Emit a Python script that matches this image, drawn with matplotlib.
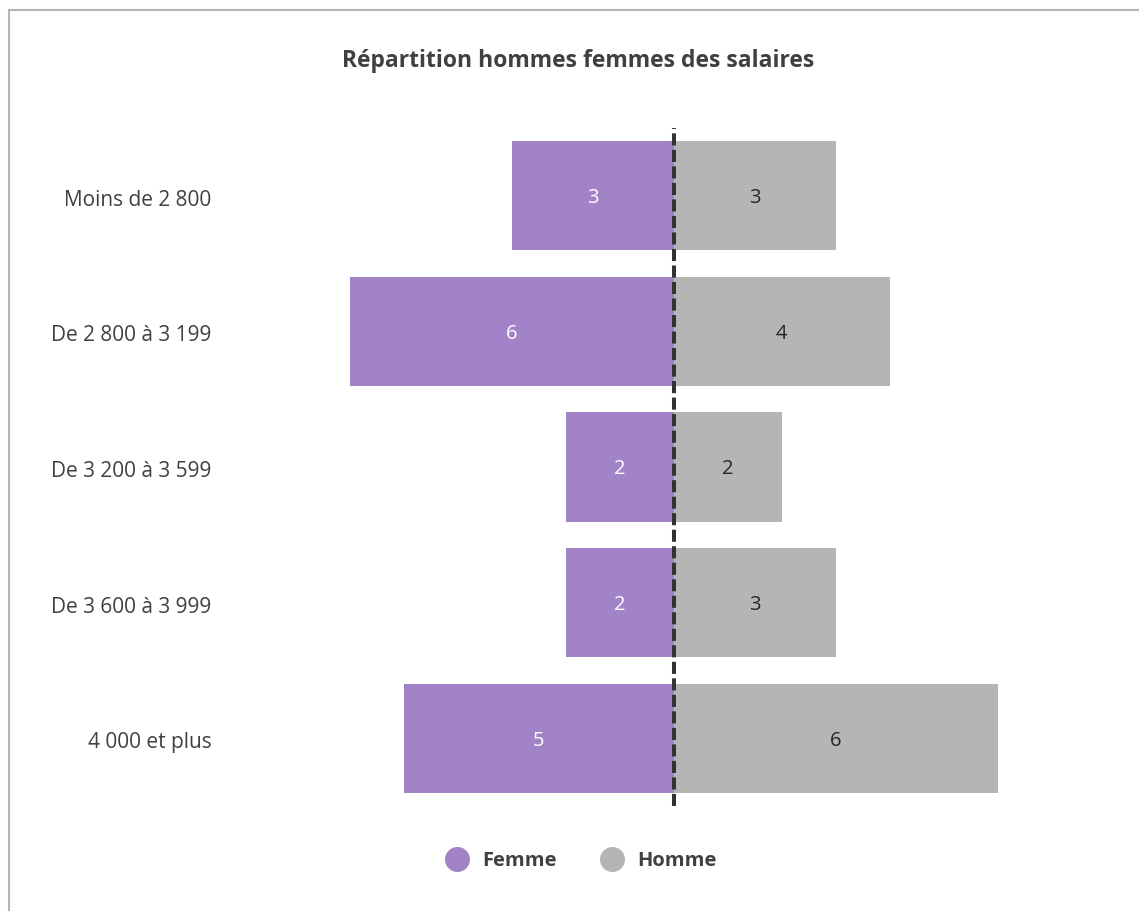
import matplotlib
matplotlib.use("Agg")
import matplotlib.pyplot as plt
from matplotlib.lines import Line2D
from matplotlib.patches import Rectangle
import matplotlib.transforms as mtransforms

categories = ["Moins de 2 800", "De 2 800 à 3 199", "De 3 200 à 3 599", "De 3 600 à 3 999", "4 000 et plus"]
femme = [3, 6, 2, 2, 5]
homme = [3, 4, 2, 3, 6]
series_names = ["Femme", "Homme"]

PURPLE = "#A383C8"
GRAY = "#B5B5B5"
TEXT = "#404040"

plt.rcParams['font.family'] = ['Open Sans', 'DejaVu Sans']

W, H = 1139, 911
fig = plt.figure(figsize=(W / 100, H / 100), dpi=100)

# chart border (left/top visible)
fig.patches.append(Rectangle((8.5 / W, -0.1), 2.0, (H - 10.5) / H + 0.1, transform=fig.transFigure,
                             fill=False, edgecolor="#B4B4B4", linewidth=1.5))

ax = fig.add_axes([241.5 / W, (H - 806) / H, 864 / W, 678 / H])
ypos = list(range(len(categories)))
ax.barh(ypos, [-v for v in femme], height=0.805, color=PURPLE, left=0)
ax.barh(ypos, homme, height=0.805, color=GRAY, left=0)

shift = mtransforms.ScaledTranslation(0, -2.5 / 100, fig.dpi_scale_trans)
for y, v in zip(ypos, femme):
    ax.text(-v / 2, y, str(v), ha="center", va="center", color="white", fontsize=14.5,
            transform=ax.transData + shift)
for y, v in zip(ypos, homme):
    ax.text(v / 2, y, str(v), ha="center", va="center", color="#262626", fontsize=14.5,
            transform=ax.transData + shift)

ax.axvline(0, color="#333333", linewidth=2.9, linestyle=(0, (3, 1.1)))

ax.set_xlim(-8, 8)
ax.set_ylim(len(categories) - 0.5, -0.5)
ax.set_yticks(ypos)
ax.set_yticklabels(categories, fontsize=15, color=TEXT)
ax.tick_params(axis="y", length=0, pad=21.5)
ax.set_xticks([])
tshift = mtransforms.ScaledTranslation(0, -2 / 100, fig.dpi_scale_trans)
for lab in ax.get_yticklabels():
    lab.set_transform(lab.get_transform() + tshift)
for s in ax.spines.values():
    s.set_visible(False)

fig.text(578.5 / W, 1 - 61 / H, "Répartition hommes femmes des salaires", ha="center", va="center",
         fontsize=16.5, fontweight="bold", color=TEXT)

handles = [Line2D([], [], marker="o", linestyle="", markersize=17, color=c) for c in (PURPLE, GRAY)]
leg = fig.legend(handles, series_names, loc="center", bbox_to_anchor=(577 / W, 1 - 861 / H),
                 ncol=2, frameon=False, handletextpad=0.25, columnspacing=1.75,
                 prop={"size": 14.5, "weight": "bold"})
for t in leg.get_texts():
    t.set_color(TEXT)

fig.savefig("out.png", dpi=100)
